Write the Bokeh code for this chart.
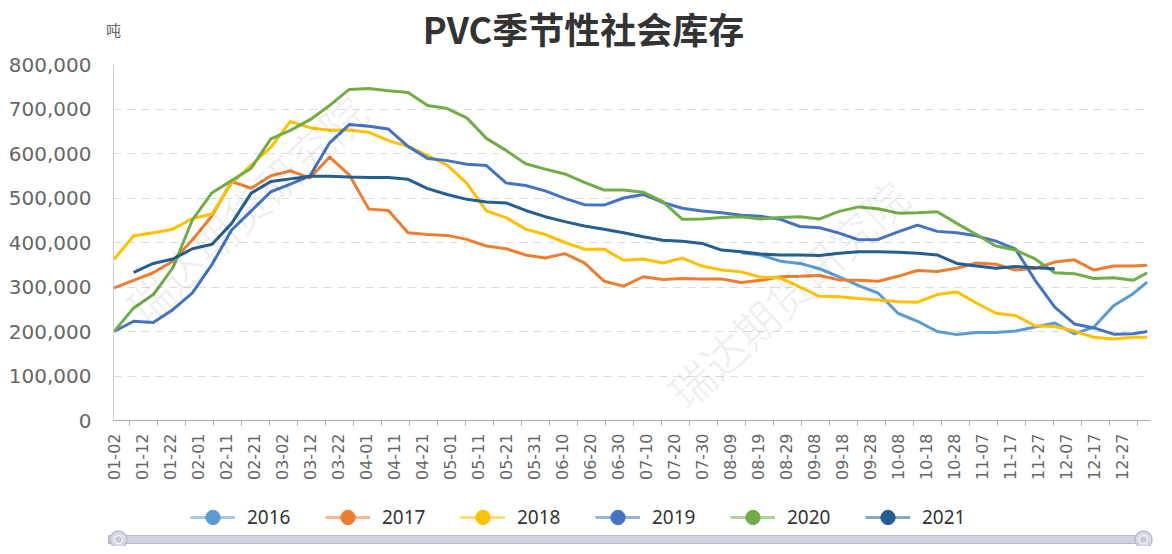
import numpy as np
from bokeh.plotting import figure
from bokeh.models import (FixedTicker, Label, Legend, LegendItem, NumeralTickFormatter,
                          ColumnDataSource, Range1d)
from bokeh.layouts import column
from bokeh.embed import file_html
from bokeh.resources import INLINE
from bokeh.core.properties import value

# ---------------- data ----------------
# x: day offset from 01-02 (leap-year calendar), weekly samples + a final point
days = list(range(0, 365, 7)) + [369]
tick_days = list(range(0, 361, 10))
tick_labels = ["01-02", "01-12", "01-22", "02-01", "02-11", "02-21", "03-02", "03-12",
               "03-22", "04-01", "04-11", "04-21", "05-01", "05-11", "05-21", "05-31",
               "06-10", "06-20", "06-30", "07-10", "07-20", "07-30", "08-09", "08-19",
               "08-29", "09-08", "09-18", "09-28", "10-08", "10-18", "10-28", "11-07",
               "11-17", "11-27", "12-07", "12-17", "12-27"]

UNIT = 1000  # values below are in thousand tonnes
s2016 = [None] * 32 + [377, 372, 358, 353, 341, 323, 303, 286, 241, 223, 200, 193, 198, 198,
                       201, 210, 219, 195, 210, 258, 285, 311]
s2017 = [298, 315, 332, 358, 406, 460, 537, 522, 550, 561, 545, 592, 552, 475, 472, 422, 418,
         416, 407, 392, 386, 372, 365, 375, 354, 313, 302, 323, 317, 319, 318, 318, 310, 315,
         323, 324, 326, 316, 315, 313, 324, 337, 335, 342, 354, 351, 338, 342, 356, 361, 338,
         347, 347, 349]
s2018 = [362, 415, 422, 430, 454, 464, 534, 574, 614, 672, 658, 652, 653, 648, 629, 616, 595,
         574, 533, 471, 456, 430, 418, 400, 385, 385, 360, 363, 354, 365, 347, 338, 334, 322,
         320, 300, 279, 278, 274, 271, 267, 266, 283, 289, 264, 241, 236, 213, 211, 201, 187,
         183, 187, 187]
s2019 = [200, 223, 220, 249, 287, 351, 428, 471, 514, 531, 550, 624, 665, 661, 655, 616, 589,
         584, 576, 573, 534, 528, 516, 499, 485, 484, 500, 508, 490, 477, 471, 467, 461, 459,
         452, 436, 433, 421, 406, 407, 424, 439, 425, 422, 415, 403, 385, 315, 255, 217, 208,
         194, 195, 200]
s2020 = [200, 253, 283, 343, 451, 512, 539, 567, 633, 652, 676, 708, 744, 746, 741, 737, 708,
         701, 680, 634, 607, 577, 565, 554, 535, 518, 518, 513, 492, 452, 453, 456, 458, 453,
         456, 458, 453, 470, 480, 476, 466, 467, 469, 443, 418, 392, 383, 363, 332, 330, 319,
         321, 315, 332]
s2021 = [None, 333, 353, 363, 386, 396, 443, 511, 537, 543, 549, 549, 547, 546, 546, 542, 521,
         508, 497, 491, 489, 472, 458, 447, 437, 430, 422, 413, 405, 403, 398, 383, 379, 374,
         372, 372, 371, 376, 379, 379, 378, 376, 372, 353, 347, 342, 346, 343, 341] + [None] * 5

series_names = ["2016", "2017", "2018", "2019", "2020", "2021"]
series_vals = [s2016, s2017, s2018, s2019, s2020, s2021]
colors = ["#5b9bd5", "#ed7d31", "#ffc000", "#4472c4", "#70ad47", "#255e91"]

W = 1160

# ---------------- header (title + unit) ----------------
h = figure(width=W, height=54, x_range=Range1d(0, W), y_range=Range1d(0, 54),
           output_backend="svg", toolbar_location=None, min_border=0)
h.frame_align = False
h.axis.visible = False
h.grid.visible = False
h.outline_line_color = None
h.text(x=[583], y=[27], text=["PVC季节性社会库存"], text_align="center",
       text_baseline="middle", text_font=value("Noto Sans CJK SC"), text_font_style="bold",
       text_font_size="36px", text_color="#333333")
h.text(x=[113], y=[25], text=["吨"], text_align="center", text_baseline="middle",
       text_font=value("Noto Sans CJK SC"), text_font_size="15px", text_color="#666666")

# ---------------- main figure ----------------
p = figure(width=W, height=428, x_range=Range1d(-0.2, 370.2), y_range=Range1d(0, 800000),
           output_backend="svg", toolbar_location=None,
           min_border_left=113, min_border_right=10, min_border_top=10, min_border_bottom=62)
p.outline_line_color = None
p.xgrid.visible = False
p.ygrid.grid_line_color = "#dcdcdc"
p.ygrid.grid_line_dash = "8 6"
p.ygrid.grid_line_width = 1

p.yaxis.ticker = FixedTicker(ticks=list(range(0, 800001, 100000)))
p.yaxis.formatter = NumeralTickFormatter(format="0,0")
p.yaxis.axis_line_color = "#d0d0d0"
p.yaxis.major_tick_line_color = None
p.yaxis.minor_tick_line_color = None
p.yaxis.major_label_standoff = 16
p.yaxis.major_label_text_font = "DejaVu Sans"
p.yaxis.major_label_text_font_size = "20px"
p.yaxis.major_label_text_color = "#666666"

p.xaxis.ticker = FixedTicker(ticks=tick_days,
                             minor_ticks=[d + 5.5 for d in tick_days if d + 5.5 < 370])
p.xaxis.major_label_overrides = {d: lab for d, lab in zip(tick_days, tick_labels)}
p.xaxis.major_label_orientation = np.pi / 2
p.xaxis.major_tick_out = 0
p.xaxis.major_tick_in = 0
p.xaxis.minor_tick_out = 5
p.xaxis.minor_tick_in = 0
p.xaxis.minor_tick_line_color = "#aaaaaa"
p.xaxis.axis_line_color = "#aaaaaa"
p.xaxis.major_label_standoff = 8
p.xaxis.major_label_text_font = "DejaVu Sans"
p.xaxis.major_label_text_font_size = "16px"
p.xaxis.major_label_text_color = "#666666"

# watermark
for wx, wy in [(132, 212), (674, 127)]:
    p.add_layout(Label(x=wx, y=wy, x_units="screen", y_units="screen", text="瑞达期货研究院",
                       text_align="center", text_baseline="middle", angle=0.75,
                       text_font="Noto Sans CJK SC", text_font_size="44px",
                       text_color="#000000", text_alpha=0.06))

for name, vals, c in zip(series_names, series_vals, colors):
    xs = [d for d, v in zip(days, vals) if v is not None]
    ys = [v * UNIT for v in vals if v is not None]
    src = ColumnDataSource(dict(x=xs, y=ys))
    p.line("x", "y", source=src, line_color=c, line_width=3, line_join="round")

# ---------------- bottom (legend + data-zoom bar) ----------------
b = figure(width=W, height=64, x_range=Range1d(0, W), y_range=Range1d(0, 64),
           output_backend="svg", toolbar_location=None, min_border=0)
b.frame_align = False
b.axis.visible = False
b.grid.visible = False
b.outline_line_color = None

legend_items = []
for name, c in zip(series_names, colors):
    dl = b.line(x=[np.nan], y=[np.nan], line_color=c, line_width=3, line_alpha=0.55)
    dm = b.scatter(x=[np.nan], y=[np.nan], size=14, marker="circle", fill_color=c,
                   line_color=c)
    legend_items.append(LegendItem(label=name, renderers=[dl, dm]))
legend = Legend(items=legend_items, orientation="horizontal", location=(190, 11),
                glyph_width=45, glyph_height=36, label_standoff=12, label_width=60,
                spacing=18, padding=0, margin=0, border_line_alpha=0,
                background_fill_alpha=0, label_text_font="Noto Sans",
                label_text_font_size="19px", label_text_color="#333333")
b.add_layout(legend, "center")

b.quad(left=[108], right=[1150], bottom=[3], top=[11], fill_color="#cfd4de",
       line_color="#b4bac6", line_width=1)
b.scatter(x=[118, 1143], y=[7, 7], size=17, marker="circle", fill_color="#d6dae2",
          line_color="#b8bdc8", line_width=1.5)
b.scatter(x=[118, 1143], y=[7, 7], size=8, marker="circle", fill_color="#c4c9d3",
          line_color="#eef0f4", line_width=1.5)

layout = column(h, p, b, spacing=0)
open("out.html", "w").write(file_html(layout, INLINE))
